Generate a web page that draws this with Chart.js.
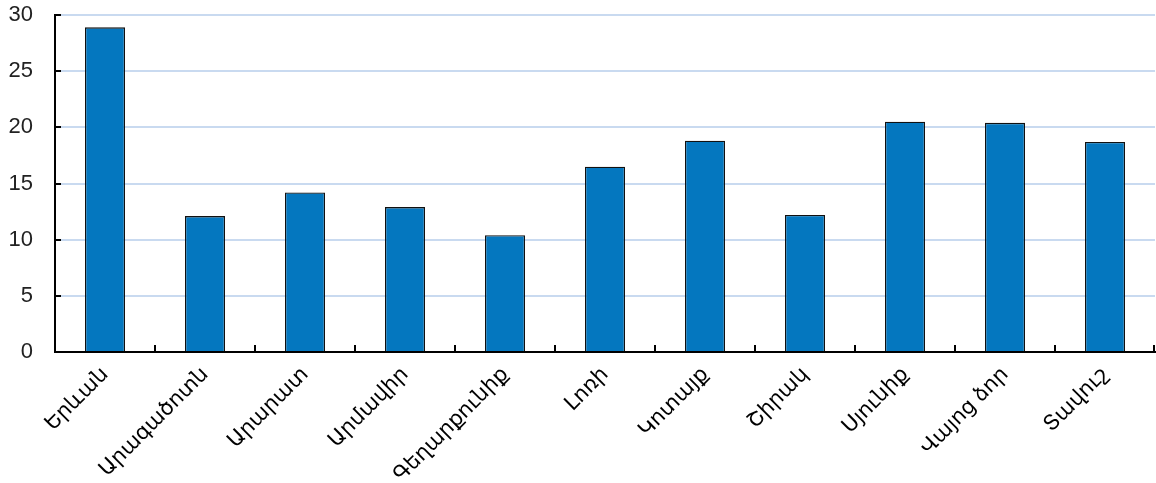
<!DOCTYPE html>
<html>
<head>
<meta charset="utf-8">
<script src="https://cdn.jsdelivr.net/npm/chart.js@4"></script>
<style>
html,body{margin:0;padding:0;background:#fff}
#wrap{width:1156px;height:483px;position:relative}
</style>
</head>
<body>
<div id="wrap"><canvas id="c"></canvas></div>
<script>
let regions = ["Երևան","Արագածոտն","Արարատ","Արմավիր","Գեղարքունիք","Լոռի","Կոտայք","Շիրակ","Սյունիք","Վայոց ձոր","Տավուշ"]
let values = [28.9,12.1,14.2,12.9,10.4,16.5,18.8,12.2,20.5,20.4,18.7]
let yTicks = [0,5,10,15,20,25,30]

let fontFam = "Arial, 'Liberation Sans', 'DejaVu Sans', sans-serif"

/* inner tick marks like the original */
let innerTicks = {
id:"innerTicks",
afterDraw(chart){
let ctx = chart.ctx
let x = chart.scales.x
let y = chart.scales.y
let area = chart.chartArea
ctx.save()
ctx.strokeStyle = "#000"
ctx.lineWidth = 2
ctx.beginPath()
// y axis ticks
yTicks.forEach(v=>{
let py = Math.round(y.getPixelForValue(v))
ctx.moveTo(area.left, py)
ctx.lineTo(area.left+6, py)
})
// x axis ticks at category boundaries
for(let i=1;i<=regions.length;i++){
let px
if(i<regions.length){
px = (x.getPixelForTick(i-1)+x.getPixelForTick(i))/2
}else{
px = area.right-1
}
px = Math.round(px)
ctx.moveTo(px, area.bottom)
ctx.lineTo(px, area.bottom-7)
}
ctx.stroke()
ctx.restore()
}
}

new Chart(document.getElementById("c"),{
type:"bar",
data:{
labels:regions,
datasets:[{
data:values,
backgroundColor:"#0477bf",
borderColor:"#111",
borderWidth:1.3,
borderSkipped:"bottom",
barPercentage:0.4,
categoryPercentage:1
}]
},
options:{
responsive:true,
maintainAspectRatio:false,
animation:false,
layout:{padding:{top:15,right:1,left:0,bottom:0}},
plugins:{
legend:{display:false},
tooltip:{enabled:false}
},
scales:{
x:{
offset:true,
grid:{display:false,drawTicks:false},
border:{color:"#000",width:2},
ticks:{
color:"#000",
font:{family:fontFam,size:21},
maxRotation:45,
minRotation:45,
padding:10,
autoSkip:false
},
afterFit(s){
s.height = 131
s.paddingLeft = 0
s.paddingRight = 0
s.paddingTop = 0
s.paddingBottom = 0
}
},
y:{
min:0,
max:30,
afterBuildTicks(s){ s.ticks = yTicks.map(v=>({value:v})) },
grid:{color:"#c9daf0",lineWidth:2,drawTicks:false},
border:{color:"#000",width:2},
ticks:{
color:"#222",
font:{family:fontFam,size:22},
padding:22
},
afterFit(s){
s.width = 55
s.paddingTop = 0
s.paddingBottom = 0
}
}
}
},
plugins:[innerTicks]
})
</script>
</body>
</html>
